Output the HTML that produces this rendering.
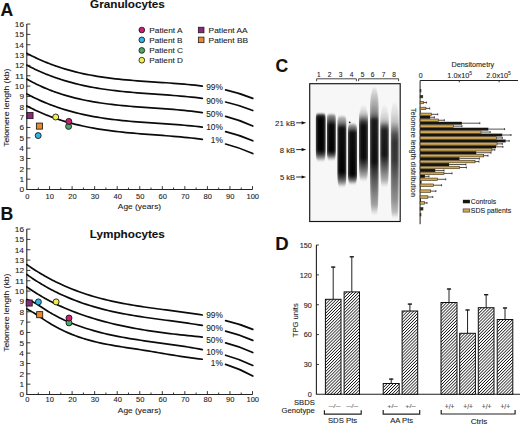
<!DOCTYPE html>
<html><head><meta charset="utf-8"><title>Figure</title><style>
html,body{margin:0;padding:0;background:#fff;width:520px;height:424px;overflow:hidden;}
svg{display:block;}
text{font-family:"Liberation Sans",sans-serif;stroke:#333;stroke-width:0.1px;paint-order:stroke;}
</style></head><body>
<svg width="520" height="424" viewBox="0 0 520 424">
<path d="M26.8,24.06 V189.50 H252.50" fill="none" stroke="#222" stroke-width="1.1"/>
<path d="M26.8,189.50 H30.400000000000002 M26.8,179.16 H30.400000000000002 M26.8,168.82 H30.400000000000002 M26.8,158.48 H30.400000000000002 M26.8,148.14 H30.400000000000002 M26.8,137.80 H30.400000000000002 M26.8,127.46 H30.400000000000002 M26.8,117.12 H30.400000000000002 M26.8,106.78 H30.400000000000002 M26.8,96.44 H30.400000000000002 M26.8,86.10 H30.400000000000002 M26.8,75.76 H30.400000000000002 M26.8,65.42 H30.400000000000002 M26.8,55.08 H30.400000000000002 M26.8,44.74 H30.400000000000002 M26.8,34.40 H30.400000000000002 M26.8,24.06 H30.400000000000002 M38.27,189.50 V187.50 M49.55,189.50 V186.10 M60.82,189.50 V187.50 M72.10,189.50 V186.10 M83.38,189.50 V187.50 M94.65,189.50 V186.10 M105.92,189.50 V187.50 M117.20,189.50 V186.10 M128.47,189.50 V187.50 M139.75,189.50 V186.10 M151.02,189.50 V187.50 M162.30,189.50 V186.10 M173.57,189.50 V187.50 M184.85,189.50 V186.10 M196.12,189.50 V187.50 M207.40,189.50 V186.10 M218.67,189.50 V187.50 M229.95,189.50 V186.10 M241.22,189.50 V187.50 M252.50,189.50 V186.10" stroke="#222" stroke-width="0.9" fill="none"/>
<text x="19.43" y="192.45" font-size="7.50" textLength="4.59" lengthAdjust="spacingAndGlyphs" style="" fill="#222" >0</text>
<text x="19.51" y="182.11" font-size="7.50" textLength="4.59" lengthAdjust="spacingAndGlyphs" style="" fill="#222" >1</text>
<text x="19.53" y="171.77" font-size="7.50" textLength="4.59" lengthAdjust="spacingAndGlyphs" style="" fill="#222" >2</text>
<text x="19.47" y="161.43" font-size="7.50" textLength="4.59" lengthAdjust="spacingAndGlyphs" style="" fill="#222" >3</text>
<text x="19.35" y="151.09" font-size="7.50" textLength="4.59" lengthAdjust="spacingAndGlyphs" style="" fill="#222" >4</text>
<text x="19.46" y="140.75" font-size="7.50" textLength="4.59" lengthAdjust="spacingAndGlyphs" style="" fill="#222" >5</text>
<text x="19.47" y="130.41" font-size="7.50" textLength="4.59" lengthAdjust="spacingAndGlyphs" style="" fill="#222" >6</text>
<text x="19.53" y="120.07" font-size="7.50" textLength="4.59" lengthAdjust="spacingAndGlyphs" style="" fill="#222" >7</text>
<text x="19.47" y="109.73" font-size="7.50" textLength="4.59" lengthAdjust="spacingAndGlyphs" style="" fill="#222" >8</text>
<text x="19.50" y="99.39" font-size="7.50" textLength="4.59" lengthAdjust="spacingAndGlyphs" style="" fill="#222" >9</text>
<text x="14.85" y="89.05" font-size="7.50" textLength="9.18" lengthAdjust="spacingAndGlyphs" style="" fill="#222" >10</text>
<text x="14.93" y="78.71" font-size="7.50" textLength="9.18" lengthAdjust="spacingAndGlyphs" style="" fill="#222" >11</text>
<text x="14.94" y="68.37" font-size="7.50" textLength="9.18" lengthAdjust="spacingAndGlyphs" style="" fill="#222" >12</text>
<text x="14.89" y="58.03" font-size="7.50" textLength="9.18" lengthAdjust="spacingAndGlyphs" style="" fill="#222" >13</text>
<text x="14.77" y="47.69" font-size="7.50" textLength="9.18" lengthAdjust="spacingAndGlyphs" style="" fill="#222" >14</text>
<text x="14.87" y="37.35" font-size="7.50" textLength="9.18" lengthAdjust="spacingAndGlyphs" style="" fill="#222" >15</text>
<text x="14.89" y="27.01" font-size="7.50" textLength="9.18" lengthAdjust="spacingAndGlyphs" style="" fill="#222" >16</text>
<text x="25.30" y="198.50" font-size="7.40" textLength="4.20" lengthAdjust="spacingAndGlyphs" style="" fill="#222" >0</text>
<text x="45.61" y="198.50" font-size="7.40" textLength="8.40" lengthAdjust="spacingAndGlyphs" style="" fill="#222" >10</text>
<text x="68.26" y="198.50" font-size="7.40" textLength="8.40" lengthAdjust="spacingAndGlyphs" style="" fill="#222" >20</text>
<text x="90.86" y="198.50" font-size="7.40" textLength="8.40" lengthAdjust="spacingAndGlyphs" style="" fill="#222" >30</text>
<text x="113.46" y="198.50" font-size="7.40" textLength="8.40" lengthAdjust="spacingAndGlyphs" style="" fill="#222" >40</text>
<text x="135.95" y="198.50" font-size="7.40" textLength="8.40" lengthAdjust="spacingAndGlyphs" style="" fill="#222" >50</text>
<text x="158.46" y="198.50" font-size="7.40" textLength="8.40" lengthAdjust="spacingAndGlyphs" style="" fill="#222" >60</text>
<text x="181.01" y="198.50" font-size="7.40" textLength="8.40" lengthAdjust="spacingAndGlyphs" style="" fill="#222" >70</text>
<text x="203.59" y="198.50" font-size="7.40" textLength="8.40" lengthAdjust="spacingAndGlyphs" style="" fill="#222" >80</text>
<text x="226.12" y="198.50" font-size="7.40" textLength="8.40" lengthAdjust="spacingAndGlyphs" style="" fill="#222" >90</text>
<text x="246.46" y="198.50" font-size="7.40" textLength="12.59" lengthAdjust="spacingAndGlyphs" style="" fill="#222" >100</text>
<text x="117.88" y="209.10" font-size="8.00" textLength="43.24" lengthAdjust="spacingAndGlyphs" style="" fill="#222" >Age (years)</text>
<text transform="translate(8.6,146.55) rotate(-90)" x="-0.19" y="0" font-size="8.1" textLength="78.01" lengthAdjust="spacingAndGlyphs" fill="#222">Telomere length (kb)</text>
<text x="0.46" y="15.90" font-size="17.60" textLength="12.70" lengthAdjust="spacingAndGlyphs" style="font-weight:bold;" fill="#111" >A</text>
<text x="90.12" y="8.30" font-size="11.30" textLength="74.76" lengthAdjust="spacingAndGlyphs" style="font-weight:bold;" fill="#111" >Granulocytes</text>
<path d="M26.80,53.27 L27.94,53.88 L29.09,54.48 L30.23,55.07 L31.38,55.65 L32.52,56.22 L33.67,56.79 L34.81,57.34 L35.96,57.89 L37.10,58.42 L38.25,58.95 L39.39,59.47 L40.54,59.98 L41.68,60.48 L42.83,60.98 L43.97,61.46 L45.12,61.94 L46.26,62.41 L47.41,62.87 L48.55,63.32 L49.70,63.77 L50.84,64.20 L51.99,64.63 L53.13,65.05 L54.28,65.47 L55.42,65.87 L56.57,66.27 L57.71,66.67 L58.86,67.05 L60.00,67.43 L61.00,67.75 L64.62,68.88 L68.25,69.94 L71.87,70.93 L75.49,71.87 L79.12,72.74 L82.74,73.56 L86.36,74.32 L89.98,75.03 L93.61,75.69 L97.23,76.31 L100.85,76.88 L104.48,77.41 L108.10,77.91 L111.72,78.36 L115.35,78.79 L118.97,79.18 L122.59,79.55 L126.22,79.89 L129.84,80.21 L133.46,80.51 L137.08,80.79 L140.71,81.06 L144.33,81.32 L147.95,81.57 L151.58,81.81 L155.20,82.05 L158.82,82.29 L162.45,82.53 L166.07,82.77 L169.69,83.02 L173.32,83.28 L176.94,83.56 L180.56,83.84 L184.18,84.15 L187.81,84.48 L191.43,84.83 L195.05,85.20 L198.68,85.61 L202.30,86.04" fill="none" stroke="#0b0b0b" stroke-width="1.7" stroke-linecap="round"/>
<path d="M26.80,65.12 L27.94,65.73 L29.09,66.32 L30.23,66.90 L31.38,67.48 L32.52,68.05 L33.67,68.60 L34.81,69.15 L35.96,69.69 L37.10,70.22 L38.25,70.75 L39.39,71.26 L40.54,71.77 L41.68,72.27 L42.83,72.76 L43.97,73.24 L45.12,73.71 L46.26,74.18 L47.41,74.63 L48.55,75.08 L49.70,75.53 L50.84,75.96 L51.99,76.39 L53.13,76.81 L54.28,77.22 L55.42,77.63 L56.57,78.02 L57.71,78.41 L58.86,78.80 L60.00,79.17 L61.00,79.50 L64.62,80.63 L68.25,81.69 L71.87,82.69 L75.49,83.63 L79.12,84.51 L82.74,85.33 L86.36,86.11 L89.98,86.83 L93.61,87.50 L97.23,88.13 L100.85,88.72 L104.48,89.27 L108.10,89.78 L111.72,90.25 L115.35,90.69 L118.97,91.10 L122.59,91.49 L126.22,91.85 L129.84,92.19 L133.46,92.51 L137.08,92.81 L140.71,93.10 L144.33,93.38 L147.95,93.65 L151.58,93.91 L155.20,94.16 L158.82,94.42 L162.45,94.68 L166.07,94.94 L169.69,95.21 L173.32,95.48 L176.94,95.77 L180.56,96.07 L184.18,96.39 L187.81,96.73 L191.43,97.09 L195.05,97.47 L198.68,97.88 L202.30,98.32" fill="none" stroke="#0b0b0b" stroke-width="1.7" stroke-linecap="round"/>
<path d="M26.80,79.08 L27.94,79.72 L29.09,80.35 L30.23,80.97 L31.38,81.58 L32.52,82.18 L33.67,82.77 L34.81,83.35 L35.96,83.91 L37.10,84.47 L38.25,85.02 L39.39,85.56 L40.54,86.09 L41.68,86.60 L42.83,87.11 L43.97,87.61 L45.12,88.10 L46.26,88.58 L47.41,89.05 L48.55,89.52 L49.70,89.97 L50.84,90.41 L51.99,90.85 L53.13,91.28 L54.28,91.70 L55.42,92.11 L56.57,92.51 L57.71,92.90 L58.86,93.29 L60.00,93.67 L61.00,93.99 L64.62,95.12 L68.25,96.18 L71.87,97.16 L75.49,98.09 L79.12,98.95 L82.74,99.75 L86.36,100.50 L89.98,101.19 L93.61,101.84 L97.23,102.44 L100.85,103.00 L104.48,103.52 L108.10,104.00 L111.72,104.45 L115.35,104.86 L118.97,105.25 L122.59,105.61 L126.22,105.94 L129.84,106.26 L133.46,106.55 L137.08,106.84 L140.71,107.11 L144.33,107.37 L147.95,107.62 L151.58,107.87 L155.20,108.12 L158.82,108.38 L162.45,108.63 L166.07,108.90 L169.69,109.17 L173.32,109.46 L176.94,109.77 L180.56,110.09 L184.18,110.44 L187.81,110.81 L191.43,111.21 L195.05,111.63 L198.68,112.10 L202.30,112.59" fill="none" stroke="#0b0b0b" stroke-width="1.7" stroke-linecap="round"/>
<path d="M26.80,93.91 L27.94,94.52 L29.09,95.12 L30.23,95.71 L31.38,96.29 L32.52,96.87 L33.67,97.43 L34.81,97.99 L35.96,98.53 L37.10,99.07 L38.25,99.60 L39.39,100.12 L40.54,100.64 L41.68,101.14 L42.83,101.64 L43.97,102.13 L45.12,102.60 L46.26,103.08 L47.41,103.54 L48.55,104.00 L49.70,104.44 L50.84,104.88 L51.99,105.32 L53.13,105.74 L54.28,106.16 L55.42,106.57 L56.57,106.97 L57.71,107.37 L58.86,107.76 L60.00,108.14 L61.00,108.47 L64.62,109.61 L68.25,110.68 L71.87,111.69 L75.49,112.64 L79.12,113.53 L82.74,114.37 L86.36,115.15 L89.98,115.87 L93.61,116.55 L97.23,117.19 L100.85,117.78 L104.48,118.32 L108.10,118.83 L111.72,119.31 L115.35,119.75 L118.97,120.16 L122.59,120.54 L126.22,120.90 L129.84,121.23 L133.46,121.54 L137.08,121.84 L140.71,122.12 L144.33,122.39 L147.95,122.64 L151.58,122.89 L155.20,123.14 L158.82,123.38 L162.45,123.62 L166.07,123.87 L169.69,124.12 L173.32,124.38 L176.94,124.65 L180.56,124.93 L184.18,125.23 L187.81,125.54 L191.43,125.88 L195.05,126.24 L198.68,126.63 L202.30,127.04" fill="none" stroke="#0b0b0b" stroke-width="1.7" stroke-linecap="round"/>
<path d="M26.80,105.93 L27.94,106.53 L29.09,107.12 L30.23,107.70 L31.38,108.27 L32.52,108.84 L33.67,109.39 L34.81,109.93 L35.96,110.47 L37.10,111.00 L38.25,111.52 L39.39,112.03 L40.54,112.53 L41.68,113.03 L42.83,113.51 L43.97,113.99 L45.12,114.46 L46.26,114.92 L47.41,115.38 L48.55,115.82 L49.70,116.26 L50.84,116.69 L51.99,117.12 L53.13,117.54 L54.28,117.95 L55.42,118.35 L56.57,118.74 L57.71,119.13 L58.86,119.51 L60.00,119.89 L61.00,120.21 L64.62,121.33 L68.25,122.38 L71.87,123.38 L75.49,124.31 L79.12,125.19 L82.74,126.01 L86.36,126.78 L89.98,127.50 L93.61,128.17 L97.23,128.80 L100.85,129.39 L104.48,129.94 L108.10,130.45 L111.72,130.92 L115.35,131.37 L118.97,131.78 L122.59,132.17 L126.22,132.54 L129.84,132.89 L133.46,133.21 L137.08,133.52 L140.71,133.82 L144.33,134.11 L147.95,134.38 L151.58,134.66 L155.20,134.93 L158.82,135.19 L162.45,135.47 L166.07,135.74 L169.69,136.02 L173.32,136.32 L176.94,136.62 L180.56,136.94 L184.18,137.28 L187.81,137.64 L191.43,138.02 L195.05,138.42 L198.68,138.86 L202.30,139.32" fill="none" stroke="#0b0b0b" stroke-width="1.7" stroke-linecap="round"/>
<path d="M225.6,89.90 Q239.2,92.96 252.8,98.40" fill="none" stroke="#0b0b0b" stroke-width="1.7" stroke-linecap="round"/>
<path d="M225.6,102.00 Q239.2,105.06 252.8,110.50" fill="none" stroke="#0b0b0b" stroke-width="1.7" stroke-linecap="round"/>
<path d="M225.6,116.40 Q239.2,119.86 252.8,126.00" fill="none" stroke="#0b0b0b" stroke-width="1.7" stroke-linecap="round"/>
<path d="M225.6,131.70 Q239.2,134.98 252.8,140.80" fill="none" stroke="#0b0b0b" stroke-width="1.7" stroke-linecap="round"/>
<path d="M225.6,144.00 Q239.2,147.46 252.8,153.60" fill="none" stroke="#0b0b0b" stroke-width="1.7" stroke-linecap="round"/>
<text x="206.18" y="89.50" font-size="8.50" textLength="16.61" lengthAdjust="spacingAndGlyphs" style="" fill="#222" >99%</text>
<text x="206.18" y="103.60" font-size="8.50" textLength="16.61" lengthAdjust="spacingAndGlyphs" style="" fill="#222" >90%</text>
<text x="206.18" y="116.50" font-size="8.50" textLength="16.61" lengthAdjust="spacingAndGlyphs" style="" fill="#222" >50%</text>
<text x="206.18" y="129.80" font-size="8.50" textLength="16.61" lengthAdjust="spacingAndGlyphs" style="" fill="#222" >10%</text>
<text x="210.80" y="143.40" font-size="8.50" textLength="12.00" lengthAdjust="spacingAndGlyphs" style="" fill="#222" >1%</text>
<rect x="26.95" y="112.55" width="6.1" height="6.1" fill="#8b2a78" stroke="#111" stroke-width="0.8"/>
<rect x="36.35" y="123.05" width="6.1" height="6.1" fill="#e8882e" stroke="#111" stroke-width="0.8"/>
<circle cx="38.2" cy="135.60" r="3.0" fill="#33b4e4" stroke="#111" stroke-width="0.85"/>
<circle cx="55.7" cy="117.00" r="3.0" fill="#f2ef4a" stroke="#111" stroke-width="0.85"/>
<circle cx="68.6" cy="126.40" r="3.0" fill="#4fa868" stroke="#111" stroke-width="0.85"/>
<circle cx="68.8" cy="121.40" r="3.0" fill="#cc1f73" stroke="#111" stroke-width="0.85"/>
<path d="M26.8,229.06 V394.50 H252.50" fill="none" stroke="#222" stroke-width="1.1"/>
<path d="M26.8,394.50 H30.400000000000002 M26.8,384.16 H30.400000000000002 M26.8,373.82 H30.400000000000002 M26.8,363.48 H30.400000000000002 M26.8,353.14 H30.400000000000002 M26.8,342.80 H30.400000000000002 M26.8,332.46 H30.400000000000002 M26.8,322.12 H30.400000000000002 M26.8,311.78 H30.400000000000002 M26.8,301.44 H30.400000000000002 M26.8,291.10 H30.400000000000002 M26.8,280.76 H30.400000000000002 M26.8,270.42 H30.400000000000002 M26.8,260.08 H30.400000000000002 M26.8,249.74 H30.400000000000002 M26.8,239.40 H30.400000000000002 M26.8,229.06 H30.400000000000002 M38.27,394.50 V392.50 M49.55,394.50 V391.10 M60.82,394.50 V392.50 M72.10,394.50 V391.10 M83.38,394.50 V392.50 M94.65,394.50 V391.10 M105.92,394.50 V392.50 M117.20,394.50 V391.10 M128.47,394.50 V392.50 M139.75,394.50 V391.10 M151.02,394.50 V392.50 M162.30,394.50 V391.10 M173.57,394.50 V392.50 M184.85,394.50 V391.10 M196.12,394.50 V392.50 M207.40,394.50 V391.10 M218.67,394.50 V392.50 M229.95,394.50 V391.10 M241.22,394.50 V392.50 M252.50,394.50 V391.10" stroke="#222" stroke-width="0.9" fill="none"/>
<text x="19.43" y="397.45" font-size="7.50" textLength="4.59" lengthAdjust="spacingAndGlyphs" style="" fill="#222" >0</text>
<text x="19.51" y="387.11" font-size="7.50" textLength="4.59" lengthAdjust="spacingAndGlyphs" style="" fill="#222" >1</text>
<text x="19.53" y="376.77" font-size="7.50" textLength="4.59" lengthAdjust="spacingAndGlyphs" style="" fill="#222" >2</text>
<text x="19.47" y="366.43" font-size="7.50" textLength="4.59" lengthAdjust="spacingAndGlyphs" style="" fill="#222" >3</text>
<text x="19.35" y="356.09" font-size="7.50" textLength="4.59" lengthAdjust="spacingAndGlyphs" style="" fill="#222" >4</text>
<text x="19.46" y="345.75" font-size="7.50" textLength="4.59" lengthAdjust="spacingAndGlyphs" style="" fill="#222" >5</text>
<text x="19.47" y="335.41" font-size="7.50" textLength="4.59" lengthAdjust="spacingAndGlyphs" style="" fill="#222" >6</text>
<text x="19.53" y="325.07" font-size="7.50" textLength="4.59" lengthAdjust="spacingAndGlyphs" style="" fill="#222" >7</text>
<text x="19.47" y="314.73" font-size="7.50" textLength="4.59" lengthAdjust="spacingAndGlyphs" style="" fill="#222" >8</text>
<text x="19.50" y="304.39" font-size="7.50" textLength="4.59" lengthAdjust="spacingAndGlyphs" style="" fill="#222" >9</text>
<text x="14.85" y="294.05" font-size="7.50" textLength="9.18" lengthAdjust="spacingAndGlyphs" style="" fill="#222" >10</text>
<text x="14.93" y="283.71" font-size="7.50" textLength="9.18" lengthAdjust="spacingAndGlyphs" style="" fill="#222" >11</text>
<text x="14.94" y="273.37" font-size="7.50" textLength="9.18" lengthAdjust="spacingAndGlyphs" style="" fill="#222" >12</text>
<text x="14.89" y="263.03" font-size="7.50" textLength="9.18" lengthAdjust="spacingAndGlyphs" style="" fill="#222" >13</text>
<text x="14.77" y="252.69" font-size="7.50" textLength="9.18" lengthAdjust="spacingAndGlyphs" style="" fill="#222" >14</text>
<text x="14.87" y="242.35" font-size="7.50" textLength="9.18" lengthAdjust="spacingAndGlyphs" style="" fill="#222" >15</text>
<text x="14.89" y="232.01" font-size="7.50" textLength="9.18" lengthAdjust="spacingAndGlyphs" style="" fill="#222" >16</text>
<text x="25.30" y="402.40" font-size="7.40" textLength="4.20" lengthAdjust="spacingAndGlyphs" style="" fill="#222" >0</text>
<text x="45.61" y="402.40" font-size="7.40" textLength="8.40" lengthAdjust="spacingAndGlyphs" style="" fill="#222" >10</text>
<text x="68.26" y="402.40" font-size="7.40" textLength="8.40" lengthAdjust="spacingAndGlyphs" style="" fill="#222" >20</text>
<text x="90.86" y="402.40" font-size="7.40" textLength="8.40" lengthAdjust="spacingAndGlyphs" style="" fill="#222" >30</text>
<text x="113.46" y="402.40" font-size="7.40" textLength="8.40" lengthAdjust="spacingAndGlyphs" style="" fill="#222" >40</text>
<text x="135.95" y="402.40" font-size="7.40" textLength="8.40" lengthAdjust="spacingAndGlyphs" style="" fill="#222" >50</text>
<text x="158.46" y="402.40" font-size="7.40" textLength="8.40" lengthAdjust="spacingAndGlyphs" style="" fill="#222" >60</text>
<text x="181.01" y="402.40" font-size="7.40" textLength="8.40" lengthAdjust="spacingAndGlyphs" style="" fill="#222" >70</text>
<text x="203.59" y="402.40" font-size="7.40" textLength="8.40" lengthAdjust="spacingAndGlyphs" style="" fill="#222" >80</text>
<text x="226.12" y="402.40" font-size="7.40" textLength="8.40" lengthAdjust="spacingAndGlyphs" style="" fill="#222" >90</text>
<text x="246.46" y="402.40" font-size="7.40" textLength="12.59" lengthAdjust="spacingAndGlyphs" style="" fill="#222" >100</text>
<text x="117.88" y="413.40" font-size="8.00" textLength="43.24" lengthAdjust="spacingAndGlyphs" style="" fill="#222" >Age (years)</text>
<text transform="translate(8.6,351.55) rotate(-90)" x="-0.19" y="0" font-size="8.1" textLength="78.01" lengthAdjust="spacingAndGlyphs" fill="#222">Telomere length (kb)</text>
<text x="0.42" y="220.00" font-size="17.60" textLength="12.79" lengthAdjust="spacingAndGlyphs" style="font-weight:bold;" fill="#111" >B</text>
<text x="89.82" y="238.20" font-size="11.30" textLength="75.06" lengthAdjust="spacingAndGlyphs" style="font-weight:bold;" fill="#111" >Lymphocytes</text>
<path d="M26.80,264.53 L27.94,265.33 L29.09,266.12 L30.23,266.91 L31.38,267.68 L32.52,268.44 L33.67,269.19 L34.81,269.93 L35.96,270.66 L37.10,271.38 L38.25,272.10 L39.39,272.80 L40.54,273.49 L41.68,274.17 L42.83,274.84 L43.97,275.51 L45.12,276.16 L46.26,276.81 L47.41,277.44 L48.55,278.07 L49.70,278.69 L50.84,279.29 L51.99,279.89 L53.13,280.49 L54.28,281.07 L55.42,281.64 L56.57,282.21 L57.71,282.76 L58.86,283.31 L60.00,283.85 L61.00,284.32 L64.62,285.95 L68.25,287.51 L71.87,288.99 L75.49,290.40 L79.12,291.74 L82.74,293.01 L86.36,294.22 L89.98,295.37 L93.61,296.45 L97.23,297.48 L100.85,298.46 L104.48,299.39 L108.10,300.26 L111.72,301.10 L115.35,301.89 L118.97,302.63 L122.59,303.35 L126.22,304.02 L129.84,304.67 L133.46,305.28 L137.08,305.87 L140.71,306.44 L144.33,306.98 L147.95,307.50 L151.58,308.01 L155.20,308.51 L158.82,309.00 L162.45,309.47 L166.07,309.95 L169.69,310.42 L173.32,310.89 L176.94,311.37 L180.56,311.85 L184.18,312.34 L187.81,312.84 L191.43,313.35 L195.05,313.88 L198.68,314.43 L202.30,315.00" fill="none" stroke="#0b0b0b" stroke-width="1.7" stroke-linecap="round"/>
<path d="M26.80,274.49 L27.94,275.30 L29.09,276.10 L30.23,276.89 L31.38,277.67 L32.52,278.43 L33.67,279.19 L34.81,279.94 L35.96,280.68 L37.10,281.40 L38.25,282.12 L39.39,282.83 L40.54,283.53 L41.68,284.21 L42.83,284.89 L43.97,285.56 L45.12,286.22 L46.26,286.87 L47.41,287.51 L48.55,288.14 L49.70,288.77 L50.84,289.38 L51.99,289.98 L53.13,290.58 L54.28,291.17 L55.42,291.74 L56.57,292.31 L57.71,292.87 L58.86,293.43 L60.00,293.97 L61.00,294.44 L64.62,296.09 L68.25,297.65 L71.87,299.14 L75.49,300.56 L79.12,301.91 L82.74,303.19 L86.36,304.40 L89.98,305.55 L93.61,306.64 L97.23,307.68 L100.85,308.66 L104.48,309.59 L108.10,310.47 L111.72,311.31 L115.35,312.10 L118.97,312.85 L122.59,313.57 L126.22,314.25 L129.84,314.89 L133.46,315.51 L137.08,316.11 L140.71,316.68 L144.33,317.22 L147.95,317.75 L151.58,318.27 L155.20,318.77 L158.82,319.26 L162.45,319.75 L166.07,320.23 L169.69,320.71 L173.32,321.19 L176.94,321.68 L180.56,322.17 L184.18,322.67 L187.81,323.19 L191.43,323.72 L195.05,324.26 L198.68,324.83 L202.30,325.42" fill="none" stroke="#0b0b0b" stroke-width="1.7" stroke-linecap="round"/>
<path d="M26.80,286.86 L27.94,287.67 L29.09,288.46 L30.23,289.24 L31.38,290.01 L32.52,290.77 L33.67,291.51 L34.81,292.25 L35.96,292.97 L37.10,293.69 L38.25,294.39 L39.39,295.09 L40.54,295.77 L41.68,296.44 L42.83,297.11 L43.97,297.76 L45.12,298.40 L46.26,299.04 L47.41,299.66 L48.55,300.28 L49.70,300.88 L50.84,301.48 L51.99,302.06 L53.13,302.64 L54.28,303.21 L55.42,303.77 L56.57,304.32 L57.71,304.86 L58.86,305.40 L60.00,305.93 L61.00,306.38 L64.62,307.97 L68.25,309.50 L71.87,310.95 L75.49,312.34 L79.12,313.68 L82.74,314.95 L86.36,316.18 L89.98,317.36 L93.61,318.49 L97.23,319.57 L100.85,320.60 L104.48,321.60 L108.10,322.54 L111.72,323.45 L115.35,324.32 L118.97,325.15 L122.59,325.94 L126.22,326.70 L129.84,327.42 L133.46,328.11 L137.08,328.77 L140.71,329.41 L144.33,330.01 L147.95,330.58 L151.58,331.14 L155.20,331.66 L158.82,332.17 L162.45,332.65 L166.07,333.12 L169.69,333.57 L173.32,334.00 L176.94,334.42 L180.56,334.82 L184.18,335.21 L187.81,335.59 L191.43,335.97 L195.05,336.33 L198.68,336.69 L202.30,337.05" fill="none" stroke="#0b0b0b" stroke-width="1.7" stroke-linecap="round"/>
<path d="M26.80,299.47 L27.94,299.82 L29.09,300.22 L30.23,300.68 L31.38,301.19 L32.52,301.74 L33.67,302.34 L34.81,302.97 L35.96,303.64 L37.10,304.33 L38.25,305.05 L39.39,305.78 L40.54,306.52 L41.68,307.27 L42.83,308.03 L43.97,308.78 L45.12,309.53 L46.26,310.26 L47.41,310.98 L48.55,311.69 L49.70,312.38 L50.84,313.06 L51.99,313.72 L53.13,314.37 L54.28,315.00 L55.42,315.62 L56.57,316.23 L57.71,316.83 L58.86,317.41 L60.00,317.98 L61.00,318.47 L64.62,320.18 L68.25,321.77 L71.87,323.27 L75.49,324.67 L79.12,326.00 L82.74,327.25 L86.36,328.44 L89.98,329.56 L93.61,330.62 L97.23,331.62 L100.85,332.57 L104.48,333.46 L108.10,334.31 L111.72,335.11 L115.35,335.87 L118.97,336.59 L122.59,337.27 L126.22,337.92 L129.84,338.54 L133.46,339.14 L137.08,339.71 L140.71,340.26 L144.33,340.80 L147.95,341.32 L151.58,341.83 L155.20,342.33 L158.82,342.82 L162.45,343.32 L166.07,343.82 L169.69,344.32 L173.32,344.83 L176.94,345.35 L180.56,345.89 L184.18,346.44 L187.81,347.02 L191.43,347.62 L195.05,348.24 L198.68,348.90 L202.30,349.59" fill="none" stroke="#0b0b0b" stroke-width="1.7" stroke-linecap="round"/>
<path d="M26.80,308.99 L27.94,309.55 L29.09,310.15 L30.23,310.79 L31.38,311.44 L32.52,312.13 L33.67,312.83 L34.81,313.55 L35.96,314.29 L37.10,315.04 L38.25,315.81 L39.39,316.57 L40.54,317.34 L41.68,318.11 L42.83,318.88 L43.97,319.65 L45.12,320.40 L46.26,321.14 L47.41,321.87 L48.55,322.59 L49.70,323.29 L50.84,323.98 L51.99,324.65 L53.13,325.31 L54.28,325.96 L55.42,326.60 L56.57,327.22 L57.71,327.83 L58.86,328.43 L60.00,329.02 L61.00,329.52 L64.62,331.26 L68.25,332.88 L71.87,334.40 L75.49,335.80 L79.12,337.10 L82.74,338.31 L86.36,339.42 L89.98,340.44 L93.61,341.39 L97.23,342.27 L100.85,343.08 L104.48,343.83 L108.10,344.54 L111.72,345.20 L115.35,345.82 L118.97,346.42 L122.59,346.99 L126.22,347.54 L129.84,348.09 L133.46,348.64 L137.08,349.19 L140.71,349.75 L144.33,350.33 L147.95,350.93 L151.58,351.53 L155.20,352.14 L158.82,352.76 L162.45,353.37 L166.07,353.98 L169.69,354.59 L173.32,355.19 L176.94,355.77 L180.56,356.34 L184.18,356.89 L187.81,357.41 L191.43,357.91 L195.05,358.38 L198.68,358.82 L202.30,359.22" fill="none" stroke="#0b0b0b" stroke-width="1.7" stroke-linecap="round"/>
<path d="M225.6,320.70 Q239.2,323.83 252.8,329.40" fill="none" stroke="#0b0b0b" stroke-width="1.7" stroke-linecap="round"/>
<path d="M225.6,331.20 Q239.2,334.51 252.8,340.40" fill="none" stroke="#0b0b0b" stroke-width="1.7" stroke-linecap="round"/>
<path d="M225.6,342.90 Q239.2,346.36 252.8,352.50" fill="none" stroke="#0b0b0b" stroke-width="1.7" stroke-linecap="round"/>
<path d="M225.6,355.20 Q239.2,358.87 252.8,365.40" fill="none" stroke="#0b0b0b" stroke-width="1.7" stroke-linecap="round"/>
<path d="M225.6,364.40 Q239.2,368.58 252.8,376.00" fill="none" stroke="#0b0b0b" stroke-width="1.7" stroke-linecap="round"/>
<text x="206.18" y="318.20" font-size="8.50" textLength="16.61" lengthAdjust="spacingAndGlyphs" style="" fill="#222" >99%</text>
<text x="206.18" y="330.50" font-size="8.50" textLength="16.61" lengthAdjust="spacingAndGlyphs" style="" fill="#222" >90%</text>
<text x="206.18" y="342.60" font-size="8.50" textLength="16.61" lengthAdjust="spacingAndGlyphs" style="" fill="#222" >50%</text>
<text x="206.18" y="354.90" font-size="8.50" textLength="16.61" lengthAdjust="spacingAndGlyphs" style="" fill="#222" >10%</text>
<text x="210.80" y="366.30" font-size="8.50" textLength="12.00" lengthAdjust="spacingAndGlyphs" style="" fill="#222" >1%</text>
<rect x="26.15" y="299.95" width="6.1" height="6.1" fill="#8b2a78" stroke="#111" stroke-width="0.8"/>
<rect x="36.65" y="311.65" width="6.1" height="6.1" fill="#e8882e" stroke="#111" stroke-width="0.8"/>
<circle cx="38.4" cy="301.90" r="3.0" fill="#33b4e4" stroke="#111" stroke-width="0.85"/>
<circle cx="56.1" cy="301.90" r="3.0" fill="#f2ef4a" stroke="#111" stroke-width="0.85"/>
<circle cx="69" cy="322.90" r="3.0" fill="#4fa868" stroke="#111" stroke-width="0.85"/>
<circle cx="69" cy="318.00" r="3.0" fill="#cc1f73" stroke="#111" stroke-width="0.85"/>
<circle cx="141.8" cy="30.0" r="2.85" fill="#cc1f73" stroke="#111" stroke-width="0.8"/>
<text x="149.23" y="32.90" font-size="7.90" textLength="33.28" lengthAdjust="spacingAndGlyphs" style="" fill="#222" >Patient A</text>
<circle cx="141.8" cy="39.9" r="2.85" fill="#33b4e4" stroke="#111" stroke-width="0.8"/>
<text x="149.23" y="42.80" font-size="7.90" textLength="33.28" lengthAdjust="spacingAndGlyphs" style="" fill="#222" >Patient B</text>
<circle cx="141.8" cy="50.4" r="2.85" fill="#4fa868" stroke="#111" stroke-width="0.8"/>
<text x="149.23" y="53.30" font-size="7.90" textLength="33.73" lengthAdjust="spacingAndGlyphs" style="" fill="#222" >Patient C</text>
<circle cx="141.8" cy="60.2" r="2.85" fill="#f2ef4a" stroke="#111" stroke-width="0.8"/>
<text x="149.23" y="63.10" font-size="7.90" textLength="33.73" lengthAdjust="spacingAndGlyphs" style="" fill="#222" >Patient D</text>
<rect x="198.3" y="27.2" width="5.7" height="5.6" fill="#8b2a78" stroke="#111" stroke-width="0.7"/>
<text x="208.62" y="32.90" font-size="7.90" textLength="38.99" lengthAdjust="spacingAndGlyphs" style="" fill="#222" >Patient AA</text>
<rect x="198.3" y="37.1" width="5.7" height="5.6" fill="#e8882e" stroke="#111" stroke-width="0.7"/>
<text x="208.62" y="42.80" font-size="7.90" textLength="39.42" lengthAdjust="spacingAndGlyphs" style="" fill="#222" >Patient BB</text>
<text x="275.38" y="71.90" font-size="17.60" textLength="12.70" lengthAdjust="spacingAndGlyphs" style="font-weight:bold;" fill="#111" >C</text>
<text x="318.8" y="76.5" font-size="6.6" text-anchor="middle" fill="#222">1</text>
<text x="329.6" y="76.5" font-size="6.6" text-anchor="middle" fill="#222">2</text>
<text x="340.7" y="76.5" font-size="6.6" text-anchor="middle" fill="#222">3</text>
<text x="351.7" y="76.5" font-size="6.6" text-anchor="middle" fill="#222">4</text>
<text x="362.7" y="76.5" font-size="6.6" text-anchor="middle" fill="#222">5</text>
<text x="372.7" y="76.5" font-size="6.6" text-anchor="middle" fill="#222">6</text>
<text x="383.5" y="76.5" font-size="6.6" text-anchor="middle" fill="#222">7</text>
<text x="394.1" y="76.5" font-size="6.6" text-anchor="middle" fill="#222">8</text>
<path d="M316.6,81.2 V78.8 H356.4 V81.2 M358.6,81.2 V78.8 H398.6 V81.2" fill="none" stroke="#333" stroke-width="0.9"/>
<rect x="309.7" y="83.7" width="90.5" height="137.8" fill="#f7f7f7" stroke="#151515" stroke-width="1.15"/>
<defs><filter id="gb" x="-50%" y="-20%" width="200%" height="140%"><feGaussianBlur stdDeviation="0.55 1.0"/></filter>
<linearGradient id="hg" x1="0" y1="0" x2="1" y2="0"><stop offset="0" stop-color="#fff" stop-opacity="0.7"/><stop offset="0.25" stop-color="#fff" stop-opacity="0.97"/><stop offset="0.5" stop-color="#fff" stop-opacity="1"/><stop offset="0.75" stop-color="#fff" stop-opacity="0.97"/><stop offset="1" stop-color="#fff" stop-opacity="0.7"/></linearGradient>
<mask id="hm" maskContentUnits="objectBoundingBox"><rect x="0" y="0" width="1" height="1" fill="url(#hg)"/></mask>
<linearGradient id="lg0" x1="0" y1="113.6" x2="0" y2="161.5" gradientUnits="userSpaceOnUse"><stop offset="0.000" stop-color="#050505" stop-opacity="0.6"/><stop offset="0.050" stop-color="#050505" stop-opacity="0.9"/><stop offset="0.113" stop-color="#050505" stop-opacity="1"/><stop offset="0.760" stop-color="#050505" stop-opacity="1"/><stop offset="0.843" stop-color="#050505" stop-opacity="0.8"/><stop offset="0.927" stop-color="#050505" stop-opacity="0.4"/><stop offset="1.000" stop-color="#050505" stop-opacity="0"/></linearGradient>
<linearGradient id="lg1" x1="0" y1="114.3" x2="0" y2="160.5" gradientUnits="userSpaceOnUse"><stop offset="0.000" stop-color="#050505" stop-opacity="0.4"/><stop offset="0.080" stop-color="#050505" stop-opacity="0.55"/><stop offset="0.167" stop-color="#050505" stop-opacity="0.8"/><stop offset="0.232" stop-color="#050505" stop-opacity="0.97"/><stop offset="0.794" stop-color="#050505" stop-opacity="1"/><stop offset="0.881" stop-color="#050505" stop-opacity="0.7"/><stop offset="1.000" stop-color="#050505" stop-opacity="0"/></linearGradient>
<linearGradient id="lg2" x1="0" y1="116.3" x2="0" y2="187" gradientUnits="userSpaceOnUse"><stop offset="0.000" stop-color="#050505" stop-opacity="0.25"/><stop offset="0.052" stop-color="#050505" stop-opacity="0.35"/><stop offset="0.109" stop-color="#050505" stop-opacity="0.6"/><stop offset="0.165" stop-color="#050505" stop-opacity="0.95"/><stop offset="0.788" stop-color="#050505" stop-opacity="1"/><stop offset="0.873" stop-color="#050505" stop-opacity="0.75"/><stop offset="0.943" stop-color="#050505" stop-opacity="0.4"/><stop offset="1.000" stop-color="#050505" stop-opacity="0"/></linearGradient>
<linearGradient id="lg3" x1="0" y1="124.0" x2="0" y2="184.5" gradientUnits="userSpaceOnUse"><stop offset="0.000" stop-color="#050505" stop-opacity="0.3"/><stop offset="0.066" stop-color="#050505" stop-opacity="0.55"/><stop offset="0.140" stop-color="#050505" stop-opacity="0.95"/><stop offset="0.843" stop-color="#050505" stop-opacity="1"/><stop offset="0.926" stop-color="#050505" stop-opacity="0.6"/><stop offset="1.000" stop-color="#050505" stop-opacity="0"/></linearGradient>
<linearGradient id="lg4" x1="0" y1="106.0" x2="0" y2="181" gradientUnits="userSpaceOnUse"><stop offset="0.000" stop-color="#050505" stop-opacity="0.04"/><stop offset="0.053" stop-color="#050505" stop-opacity="0.1"/><stop offset="0.093" stop-color="#050505" stop-opacity="0.18"/><stop offset="0.133" stop-color="#050505" stop-opacity="0.33"/><stop offset="0.173" stop-color="#050505" stop-opacity="0.58"/><stop offset="0.213" stop-color="#050505" stop-opacity="0.8"/><stop offset="0.267" stop-color="#050505" stop-opacity="0.95"/><stop offset="0.693" stop-color="#050505" stop-opacity="0.96"/><stop offset="0.760" stop-color="#050505" stop-opacity="0.8"/><stop offset="0.853" stop-color="#050505" stop-opacity="0.55"/><stop offset="0.933" stop-color="#050505" stop-opacity="0.3"/><stop offset="1.000" stop-color="#050505" stop-opacity="0"/></linearGradient>
<linearGradient id="lg5" x1="0" y1="87.5" x2="0" y2="215" gradientUnits="userSpaceOnUse"><stop offset="0.000" stop-color="#050505" stop-opacity="0.05"/><stop offset="0.059" stop-color="#050505" stop-opacity="0.18"/><stop offset="0.137" stop-color="#050505" stop-opacity="0.33"/><stop offset="0.192" stop-color="#050505" stop-opacity="0.45"/><stop offset="0.224" stop-color="#050505" stop-opacity="0.6"/><stop offset="0.255" stop-color="#050505" stop-opacity="0.9"/><stop offset="0.584" stop-color="#050505" stop-opacity="0.95"/><stop offset="0.647" stop-color="#050505" stop-opacity="0.8"/><stop offset="0.725" stop-color="#050505" stop-opacity="0.65"/><stop offset="0.843" stop-color="#050505" stop-opacity="0.47"/><stop offset="0.922" stop-color="#050505" stop-opacity="0.35"/><stop offset="1.000" stop-color="#050505" stop-opacity="0"/></linearGradient>
<linearGradient id="lg6" x1="0" y1="106.0" x2="0" y2="187" gradientUnits="userSpaceOnUse"><stop offset="0.000" stop-color="#050505" stop-opacity="0.03"/><stop offset="0.074" stop-color="#050505" stop-opacity="0.08"/><stop offset="0.148" stop-color="#050505" stop-opacity="0.16"/><stop offset="0.198" stop-color="#050505" stop-opacity="0.3"/><stop offset="0.247" stop-color="#050505" stop-opacity="0.65"/><stop offset="0.296" stop-color="#050505" stop-opacity="0.88"/><stop offset="0.605" stop-color="#050505" stop-opacity="0.92"/><stop offset="0.667" stop-color="#050505" stop-opacity="0.8"/><stop offset="0.790" stop-color="#050505" stop-opacity="0.55"/><stop offset="0.914" stop-color="#050505" stop-opacity="0.3"/><stop offset="1.000" stop-color="#050505" stop-opacity="0"/></linearGradient>
<linearGradient id="lg7" x1="0" y1="103.0" x2="0" y2="218" gradientUnits="userSpaceOnUse"><stop offset="0.000" stop-color="#050505" stop-opacity="0.03"/><stop offset="0.078" stop-color="#050505" stop-opacity="0.1"/><stop offset="0.165" stop-color="#050505" stop-opacity="0.22"/><stop offset="0.217" stop-color="#050505" stop-opacity="0.45"/><stop offset="0.270" stop-color="#050505" stop-opacity="0.68"/><stop offset="0.339" stop-color="#050505" stop-opacity="0.8"/><stop offset="0.496" stop-color="#050505" stop-opacity="0.78"/><stop offset="0.670" stop-color="#050505" stop-opacity="0.58"/><stop offset="0.843" stop-color="#050505" stop-opacity="0.42"/><stop offset="0.948" stop-color="#050505" stop-opacity="0.25"/><stop offset="1.000" stop-color="#050505" stop-opacity="0"/></linearGradient>
</defs>
<g filter="url(#gb)">
<path d="M315.80,116.24 C315.80,113.90 317.76,113.6 320.70,113.6 C323.64,113.6 325.60,113.90 325.60,116.24 Q325.8,116.77 325.8,118 L325.8,150 Q325.8,161.5 322.45,161.5 L318.95,161.5 Q315.6,161.5 315.6,150 L315.6,118 Q315.6,116.77 315.80,116.24 Z" fill="url(#lg0)" mask="url(#hm)"/>
<path d="M326.95,116.82 C326.95,114.60 328.71,114.3 331.35,114.3 C333.99,114.3 335.75,114.60 335.75,116.82 Q335.9,117.32 335.9,118.5 L335.9,150 Q335.9,160.5 333.10,160.5 L329.60,160.5 Q326.8,160.5 326.8,150 L326.8,118.5 Q326.8,117.32 326.95,116.82 Z" fill="url(#lg1)" mask="url(#hm)"/>
<path d="M337.75,119.12 C337.75,116.60 339.41,116.3 341.90,116.3 C344.39,116.3 346.05,116.60 346.05,119.12 Q346.6,119.68 346.6,121 L346.6,171 Q346.6,187 343.65,187 L340.15,187 Q337.2,187 337.2,171 L337.2,121 Q337.2,119.68 337.75,119.12 Z" fill="url(#lg2)" mask="url(#hm)"/>
<path d="M348.35,126.40 C348.35,124.30 350.01,124.0 352.50,124.0 C354.99,124.0 356.65,124.30 356.65,126.40 Q357.2,126.88 357.2,128 L357.2,172 Q357.2,184.5 354.25,184.5 L350.75,184.5 Q347.8,184.5 347.8,172 L347.8,128 Q347.8,126.88 348.35,126.40 Z" fill="url(#lg3)" mask="url(#hm)"/>
<path d="M360.60,110.00 C360.60,106.30 361.76,106.0 363.50,106.0 C365.24,106.0 366.40,106.30 366.40,110.00 Q368.1,112.40 368.1,118 L368.1,160 Q368.1,181 365.75,181 L361.25,181 Q358.9,181 358.9,160 L358.9,118 Q358.9,112.40 360.60,110.00 Z" fill="url(#lg4)" mask="url(#hm)"/>
<path d="M372.00,91.50 C372.00,87.80 372.96,87.5 374.40,87.5 C375.84,87.5 376.80,87.80 376.80,91.50 Q378.8,96.45 378.8,108 L378.8,165 Q378.8,215 376.15,215 L372.65,215 Q370.0,215 370.0,165 L370.0,108 Q370.0,96.45 372.00,91.50 Z" fill="url(#lg5)" mask="url(#hm)"/>
<path d="M381.85,110.00 C381.85,106.30 382.91,106.0 384.50,106.0 C386.09,106.0 387.15,106.30 387.15,110.00 Q388.9,113.00 388.9,120 L388.9,160 Q388.9,187 386.50,187 L382.50,187 Q380.1,187 380.1,160 L380.1,120 Q380.1,113.00 381.85,110.00 Z" fill="url(#lg6)" mask="url(#hm)"/>
<path d="M392.10,107.00 C392.10,103.30 393.16,103.0 394.75,103.0 C396.34,103.0 397.40,103.30 397.40,107.00 Q398.9,111.50 398.9,122 L398.9,165 Q398.9,218 397.00,218 L392.50,218 Q390.6,218 390.6,165 L390.6,122 Q390.6,111.50 392.10,107.00 Z" fill="url(#lg7)" mask="url(#hm)"/>
</g>
<circle cx="349.7" cy="122.3" r="0.9" fill="#222"/>
<text x="275.11" y="125.70" font-size="7.20" textLength="20.01" lengthAdjust="spacingAndGlyphs" style="" fill="#222" >21 kB</text>
<path d="M296.2,122.8 H302.5" stroke="#111" stroke-width="0.9"/>
<path d="M301.6,121.20 L306.2,122.8 L301.6,124.40 Z" fill="#111"/>
<text x="279.87" y="152.50" font-size="7.20" textLength="15.23" lengthAdjust="spacingAndGlyphs" style="" fill="#222" >8 kB</text>
<path d="M296.2,149.6 H302.5" stroke="#111" stroke-width="0.9"/>
<path d="M301.6,148.00 L306.2,149.6 L301.6,151.20 Z" fill="#111"/>
<text x="279.90" y="179.90" font-size="7.20" textLength="15.20" lengthAdjust="spacingAndGlyphs" style="" fill="#222" >5 kB</text>
<path d="M296.2,177.0 H302.5" stroke="#111" stroke-width="0.9"/>
<path d="M301.6,175.40 L306.2,177.0 L301.6,178.60 Z" fill="#111"/>
<text x="451.51" y="66.90" font-size="7.00" textLength="42.71" lengthAdjust="spacingAndGlyphs" style="" fill="#222" >Densitometry</text>
<text x="420.7" y="77.6" font-size="7.0" text-anchor="middle" fill="#222">0</text>
<text x="447.34" y="77.60" font-size="7.00" textLength="21.94" lengthAdjust="spacingAndGlyphs" style="" fill="#222" >1.0x10</text>
<text x="469.30" y="75.0" font-size="4.9" fill="#333">5</text>
<text x="486.34" y="77.60" font-size="7.00" textLength="21.75" lengthAdjust="spacingAndGlyphs" style="" fill="#222" >2.0x10</text>
<text x="508.10" y="75.0" font-size="4.9" fill="#333">5</text>
<path d="M420.1,224.2 V80.5 H518" fill="none" stroke="#222" stroke-width="1.0"/>
<path d="M459.3,80.5 V82.3 M499.1,80.5 V82.3" stroke="#222" stroke-width="0.9"/>
<rect x="420.1" y="89.46" width="0.90" height="2.5" fill="#2a2418" stroke="#3a3018" stroke-width="0.6"/>
<rect x="420.1" y="95.37" width="2.70" height="2.5" fill="#2a2418" stroke="#3a3018" stroke-width="0.6"/>
<rect x="420.1" y="101.28" width="3.40" height="2.5" fill="#d4a852" stroke="#3a3018" stroke-width="0.6"/>
<rect x="420.1" y="107.18" width="5.80" height="2.5" fill="#d4a852" stroke="#3a3018" stroke-width="0.6"/>
<rect x="420.1" y="109.99" width="0.40" height="2.85" fill="#16150f"/>
<rect x="420.1" y="113.09" width="11.50" height="2.5" fill="#d4a852" stroke="#3a3018" stroke-width="0.6"/>
<rect x="420.1" y="115.89" width="10.10" height="2.85" fill="#16150f"/>
<rect x="420.1" y="118.99" width="18.50" height="2.5" fill="#d4a852" stroke="#3a3018" stroke-width="0.6"/>
<rect x="420.1" y="121.80" width="41.80" height="2.85" fill="#16150f"/>
<rect x="420.1" y="124.90" width="33.40" height="2.5" fill="#d4a852" stroke="#3a3018" stroke-width="0.6"/>
<rect x="420.1" y="127.71" width="68.30" height="2.85" fill="#16150f"/>
<rect x="420.1" y="130.81" width="60.90" height="2.5" fill="#d4a852" stroke="#3a3018" stroke-width="0.6"/>
<rect x="420.1" y="133.61" width="82.20" height="2.85" fill="#16150f"/>
<rect x="420.1" y="136.71" width="76.40" height="2.5" fill="#d4a852" stroke="#3a3018" stroke-width="0.6"/>
<rect x="420.1" y="139.52" width="85.60" height="2.85" fill="#16150f"/>
<rect x="420.1" y="142.62" width="77.00" height="2.5" fill="#d4a852" stroke="#3a3018" stroke-width="0.6"/>
<rect x="420.1" y="145.42" width="75.90" height="2.85" fill="#16150f"/>
<rect x="420.1" y="148.52" width="71.80" height="2.5" fill="#d4a852" stroke="#3a3018" stroke-width="0.6"/>
<rect x="420.1" y="151.33" width="56.20" height="2.85" fill="#16150f"/>
<rect x="420.1" y="154.43" width="63.60" height="2.5" fill="#d4a852" stroke="#3a3018" stroke-width="0.6"/>
<rect x="420.1" y="157.24" width="39.40" height="2.85" fill="#16150f"/>
<rect x="420.1" y="160.34" width="54.90" height="2.5" fill="#d4a852" stroke="#3a3018" stroke-width="0.6"/>
<rect x="420.1" y="163.14" width="29.00" height="2.85" fill="#16150f"/>
<rect x="420.1" y="166.24" width="39.40" height="2.5" fill="#d4a852" stroke="#3a3018" stroke-width="0.6"/>
<rect x="420.1" y="169.05" width="15.20" height="2.85" fill="#16150f"/>
<rect x="420.1" y="172.15" width="23.90" height="2.5" fill="#d4a852" stroke="#3a3018" stroke-width="0.6"/>
<rect x="420.1" y="174.95" width="4.80" height="2.85" fill="#16150f"/>
<rect x="420.1" y="178.05" width="17.50" height="2.5" fill="#d4a852" stroke="#3a3018" stroke-width="0.6"/>
<rect x="420.1" y="180.86" width="1.40" height="2.85" fill="#16150f"/>
<rect x="420.1" y="183.96" width="13.50" height="2.5" fill="#d4a852" stroke="#3a3018" stroke-width="0.6"/>
<rect x="420.1" y="186.77" width="0.40" height="2.85" fill="#16150f"/>
<rect x="420.1" y="189.87" width="10.60" height="2.5" fill="#d4a852" stroke="#3a3018" stroke-width="0.6"/>
<rect x="420.1" y="195.77" width="7.80" height="2.5" fill="#d4a852" stroke="#3a3018" stroke-width="0.6"/>
<rect x="420.1" y="198.58" width="0.90" height="2.85" fill="#16150f"/>
<rect x="420.1" y="201.68" width="4.30" height="2.5" fill="#d4a852" stroke="#3a3018" stroke-width="0.6"/>
<rect x="420.1" y="207.58" width="2.90" height="2.5" fill="#2a2418" stroke="#3a3018" stroke-width="0.6"/>
<rect x="420.1" y="213.49" width="0.90" height="2.5" fill="#2a2418" stroke="#3a3018" stroke-width="0.6"/>
<path d="M423.50,102.53 H426.40 M426.40,101.53 V103.53" stroke="#151515" stroke-width="0.75" fill="none"/>
<path d="M425.90,108.43 H429.70 M429.70,107.43 V109.43" stroke="#151515" stroke-width="0.75" fill="none"/>
<path d="M431.60,114.34 H437.70 M437.70,113.34 V115.34" stroke="#151515" stroke-width="0.75" fill="none"/>
<path d="M430.20,117.29 H434.40 M434.40,116.29 V118.29" stroke="#151515" stroke-width="0.75" fill="none"/>
<path d="M438.60,120.24 H444.30 M444.30,119.24 V121.24" stroke="#151515" stroke-width="0.75" fill="none"/>
<path d="M461.90,123.20 H479.80 M479.80,122.20 V124.20" stroke="#151515" stroke-width="0.75" fill="none"/>
<path d="M453.50,126.15 H462.00 M462.00,125.15 V127.15" stroke="#151515" stroke-width="0.75" fill="none"/>
<path d="M488.40,129.11 H504.60 M504.60,128.11 V130.11" stroke="#151515" stroke-width="0.75" fill="none"/>
<path d="M481.00,132.06 H490.20 M490.20,131.06 V133.06" stroke="#151515" stroke-width="0.75" fill="none"/>
<path d="M502.30,135.01 H511.00 M511.00,134.01 V136.01" stroke="#151515" stroke-width="0.75" fill="none"/>
<path d="M496.50,137.96 H502.30 M502.30,136.96 V138.96" stroke="#151515" stroke-width="0.75" fill="none"/>
<path d="M505.70,140.92 H509.20 M509.20,139.92 V141.92" stroke="#151515" stroke-width="0.75" fill="none"/>
<path d="M497.10,143.87 H502.30 M502.30,142.87 V144.87" stroke="#151515" stroke-width="0.75" fill="none"/>
<path d="M496.00,146.82 H502.90 M502.90,145.82 V147.82" stroke="#151515" stroke-width="0.75" fill="none"/>
<path d="M491.90,149.77 H494.80 M494.80,148.77 V150.77" stroke="#151515" stroke-width="0.75" fill="none"/>
<path d="M476.30,152.73 H491.00 M491.00,151.73 V153.73" stroke="#151515" stroke-width="0.75" fill="none"/>
<path d="M483.70,155.68 H488.00 M488.00,154.68 V156.68" stroke="#151515" stroke-width="0.75" fill="none"/>
<path d="M459.50,158.64 H479.40 M479.40,157.64 V159.64" stroke="#151515" stroke-width="0.75" fill="none"/>
<path d="M475.00,161.59 H479.00 M479.00,160.59 V162.59" stroke="#151515" stroke-width="0.75" fill="none"/>
<path d="M449.10,164.54 H465.90 M465.90,163.54 V165.54" stroke="#151515" stroke-width="0.75" fill="none"/>
<path d="M459.50,167.49 H466.40 M466.40,166.49 V168.49" stroke="#151515" stroke-width="0.75" fill="none"/>
<path d="M435.30,170.45 H444.00 M444.00,169.45 V171.45" stroke="#151515" stroke-width="0.75" fill="none"/>
<path d="M444.00,173.40 H452.00 M452.00,172.40 V174.40" stroke="#151515" stroke-width="0.75" fill="none"/>
<path d="M424.90,176.35 H429.00 M429.00,175.35 V177.35" stroke="#151515" stroke-width="0.75" fill="none"/>
<path d="M437.60,179.30 H445.70 M445.70,178.30 V180.30" stroke="#151515" stroke-width="0.75" fill="none"/>
<path d="M433.60,185.21 H441.60 M441.60,184.21 V186.21" stroke="#151515" stroke-width="0.75" fill="none"/>
<path d="M430.70,191.12 H435.90 M435.90,190.12 V192.12" stroke="#151515" stroke-width="0.75" fill="none"/>
<path d="M427.90,197.02 H432.80 M432.80,196.02 V198.02" stroke="#151515" stroke-width="0.75" fill="none"/>
<path d="M424.40,202.93 H427.00 M427.00,201.93 V203.93" stroke="#151515" stroke-width="0.75" fill="none"/>
<text transform="translate(410.8,108.1) rotate(90)" x="-0.16" y="0" font-size="7.0" textLength="89.03" lengthAdjust="spacingAndGlyphs" fill="#222">Telomere length distribution</text>
<rect x="462.9" y="199.8" width="7.0" height="3.5" fill="#16150f"/>
<rect x="463.1" y="208.9" width="6.7" height="3.2" fill="#d4a852" stroke="#3a3018" stroke-width="0.6"/>
<text x="470.86" y="203.60" font-size="6.50" textLength="25.19" lengthAdjust="spacingAndGlyphs" style="" fill="#222" >Controls</text>
<text x="470.89" y="212.80" font-size="6.50" textLength="40.26" lengthAdjust="spacingAndGlyphs" style="" fill="#222" >SDS patients</text>
<text x="275.36" y="250.30" font-size="17.60" textLength="13.42" lengthAdjust="spacingAndGlyphs" style="font-weight:bold;" fill="#111" >D</text>
<path d="M316.4,245.01 V394.3 H520" fill="none" stroke="#222" stroke-width="1.1"/>
<path d="M316.4,364.44 H318.9 M316.4,334.58 H318.9 M316.4,304.72 H318.9 M316.4,274.86 H318.9 M316.4,245.01 H318.9" stroke="#222" stroke-width="0.9"/>
<text x="307.85" y="397.15" font-size="6.60" textLength="4.04" lengthAdjust="spacingAndGlyphs" style="" fill="#222" >0</text>
<text x="303.81" y="367.29" font-size="6.60" textLength="8.08" lengthAdjust="spacingAndGlyphs" style="" fill="#222" >30</text>
<text x="303.81" y="337.43" font-size="6.60" textLength="8.08" lengthAdjust="spacingAndGlyphs" style="" fill="#222" >60</text>
<text x="303.81" y="307.57" font-size="6.60" textLength="8.08" lengthAdjust="spacingAndGlyphs" style="" fill="#222" >90</text>
<text x="299.77" y="277.71" font-size="6.60" textLength="12.11" lengthAdjust="spacingAndGlyphs" style="" fill="#222" >120</text>
<text x="299.77" y="247.86" font-size="6.60" textLength="12.11" lengthAdjust="spacingAndGlyphs" style="" fill="#222" >150</text>
<text transform="translate(298.2,337.0) rotate(-90)" x="-0.17" y="0" font-size="7.0" textLength="33.85" lengthAdjust="spacingAndGlyphs" fill="#222">TPG units</text>
<defs><pattern id="hatch" patternUnits="userSpaceOnUse" width="2.17" height="4" patternTransform="rotate(45)"><rect width="2.17" height="4" fill="#fff"/><rect x="0" y="0" width="0.75" height="4" fill="#111"/></pattern></defs>
<path d="M333.20,299.30 V266.70" stroke="#222" stroke-width="1.0" fill="none"/>
<path d="M331.10,267.10 H335.30" stroke="#1a1a1a" stroke-width="1.4" fill="none"/>
<rect x="325.40" y="299.30" width="15.60" height="95.00" fill="url(#hatch)" stroke="#111" stroke-width="1.0"/>
<path d="M351.80,291.90 V256.40" stroke="#222" stroke-width="1.0" fill="none"/>
<path d="M349.70,256.80 H353.90" stroke="#1a1a1a" stroke-width="1.4" fill="none"/>
<rect x="344.10" y="291.90" width="15.40" height="102.40" fill="url(#hatch)" stroke="#111" stroke-width="1.0"/>
<path d="M391.20,383.50 V378.70" stroke="#222" stroke-width="1.0" fill="none"/>
<path d="M389.10,379.10 H393.30" stroke="#1a1a1a" stroke-width="1.4" fill="none"/>
<rect x="383.20" y="383.50" width="16.00" height="10.80" fill="url(#hatch)" stroke="#111" stroke-width="1.0"/>
<path d="M409.90,311.00 V303.70" stroke="#222" stroke-width="1.0" fill="none"/>
<path d="M407.80,304.10 H412.00" stroke="#1a1a1a" stroke-width="1.4" fill="none"/>
<rect x="402.10" y="311.00" width="15.60" height="83.30" fill="url(#hatch)" stroke="#111" stroke-width="1.0"/>
<path d="M449.00,302.50 V288.60" stroke="#222" stroke-width="1.0" fill="none"/>
<path d="M446.90,289.00 H451.10" stroke="#1a1a1a" stroke-width="1.4" fill="none"/>
<rect x="441.00" y="302.50" width="16.00" height="91.80" fill="url(#hatch)" stroke="#111" stroke-width="1.0"/>
<path d="M467.55,333.30 V309.60" stroke="#222" stroke-width="1.0" fill="none"/>
<path d="M465.45,310.00 H469.65" stroke="#1a1a1a" stroke-width="1.4" fill="none"/>
<rect x="459.70" y="333.30" width="15.70" height="61.00" fill="url(#hatch)" stroke="#111" stroke-width="1.0"/>
<path d="M486.15,307.70 V294.30" stroke="#222" stroke-width="1.0" fill="none"/>
<path d="M484.05,294.70 H488.25" stroke="#1a1a1a" stroke-width="1.4" fill="none"/>
<rect x="478.30" y="307.70" width="15.70" height="86.60" fill="url(#hatch)" stroke="#111" stroke-width="1.0"/>
<path d="M505.00,319.50 V307.60" stroke="#222" stroke-width="1.0" fill="none"/>
<path d="M502.90,308.00 H507.10" stroke="#1a1a1a" stroke-width="1.4" fill="none"/>
<rect x="497.20" y="319.50" width="15.60" height="74.80" fill="url(#hatch)" stroke="#111" stroke-width="1.0"/>
<text x="293.95" y="404.70" font-size="7.00" textLength="20.90" lengthAdjust="spacingAndGlyphs" style="" fill="#222" >SBDS</text>
<text x="281.51" y="412.80" font-size="7.00" textLength="33.33" lengthAdjust="spacingAndGlyphs" style="" fill="#222" >Genotype</text>
<text x="328.70" y="408.30" font-size="6.20" textLength="11.60" lengthAdjust="spacingAndGlyphs" style="" fill="#888" >–/–</text>
<text x="346.60" y="408.30" font-size="6.20" textLength="11.60" lengthAdjust="spacingAndGlyphs" style="" fill="#888" >–/–</text>
<text x="387.24" y="408.40" font-size="6.20" textLength="10.36" lengthAdjust="spacingAndGlyphs" style="" fill="#666" >+/–</text>
<text x="405.24" y="408.40" font-size="6.20" textLength="10.36" lengthAdjust="spacingAndGlyphs" style="" fill="#666" >+/–</text>
<text x="444.77" y="408.50" font-size="6.40" textLength="9.66" lengthAdjust="spacingAndGlyphs" style="" fill="#555" >+/+</text>
<text x="463.27" y="408.50" font-size="6.40" textLength="9.66" lengthAdjust="spacingAndGlyphs" style="" fill="#555" >+/+</text>
<text x="481.77" y="408.50" font-size="6.40" textLength="9.66" lengthAdjust="spacingAndGlyphs" style="" fill="#555" >+/+</text>
<text x="500.47" y="408.50" font-size="6.40" textLength="9.66" lengthAdjust="spacingAndGlyphs" style="" fill="#555" >+/+</text>
<path d="M324.4,410.2 V414.2 H361.2 V410.2 M383.2,410.0 V414.2 H419.7 V410.0 M441.2,410.0 V414.0 H515.1 V410.0" fill="none" stroke="#222" stroke-width="1.2"/>
<text x="327.95" y="423.40" font-size="7.20" textLength="29.23" lengthAdjust="spacingAndGlyphs" style="" fill="#222" >SDS Pts</text>
<text x="390.19" y="423.40" font-size="7.20" textLength="22.89" lengthAdjust="spacingAndGlyphs" style="" fill="#222" >AA Pts</text>
<text x="470.69" y="423.60" font-size="7.20" textLength="16.60" lengthAdjust="spacingAndGlyphs" style="" fill="#222" >Ctrls</text>
</svg>
</body></html>
